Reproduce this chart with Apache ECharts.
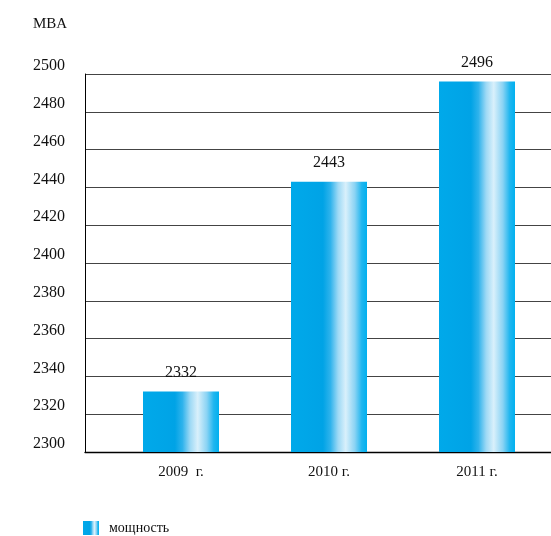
<!DOCTYPE html>
<html>
<head>
<meta charset="utf-8">
<script src="https://cdn.jsdelivr.net/npm/echarts@6/dist/echarts.min.js"></script>
<style>html,body{margin:0;padding:0;background:#fff}#c{width:551px;height:536px}</style>
</head>
<body>
<div id="c"></div>
<script>
var categories = ['2009  г.', '2010 г.', '2011 г.'];
var values = [2332, 2443, 2496];
var seriesName = 'мощность';
var unitLabel = 'MBA';
var yMin = 2300, yMax = 2500, yStep = 20;

var serif = '"Liberation Serif", "DejaVu Serif", serif';
var barGradient = {
  type: 'linear', x: 0, y: 0, x2: 1, y2: 0,
  colorStops: [
    {offset: 0, color: '#00a9ea'},
    {offset: 0.42, color: '#00a3e6'},
    {offset: 0.52, color: '#2fb3ec'},
    {offset: 0.62, color: '#9dd9f5'},
    {offset: 0.72, color: '#d9f0fb'},
    {offset: 0.84, color: '#8ad3f4'},
    {offset: 0.93, color: '#20b6ef'},
    {offset: 1, color: '#00b0ef'}
  ]
};

var chart = echarts.init(document.getElementById('c'));
chart.setOption({
  animation: false,
  title: {text: unitLabel, left: 28, top: 12, textStyle: {fontFamily: serif, fontSize: 15, fontWeight: 'normal', color: '#111'}},
  legend: {
    left: 78, top: 516, itemWidth: 16, itemHeight: 14, icon: 'rect',
    data: [seriesName],
    textStyle: {fontFamily: serif, fontSize: 14, color: '#111', padding: [0, 0, 0, 5]}
  },
  grid: [
    {left: 85, right: 0, top: 74, bottom: 84},
    {left: 107, width: 445.5, top: 74, bottom: 84}
  ],
  xAxis: [
    {gridIndex: 0, type: 'category', data: ['a'], axisLine: {lineStyle: {color: '#000', width: 1.3}}, axisTick: {show: false}, axisLabel: {show: false}},
    {gridIndex: 1, type: 'category', data: categories, axisLine: {show: false}, axisTick: {show: false},
     axisLabel: {margin: 13, fontFamily: serif, fontSize: 15, color: '#111'}}
  ],
  yAxis: [
    {gridIndex: 0, type: 'value', min: yMin, max: yMax, interval: yStep,
     axisLine: {show: true, lineStyle: {color: '#000', width: 1}}, axisTick: {show: false},
     splitLine: {lineStyle: {color: '#444', width: 1}},
     axisLabel: {margin: 20, fontFamily: serif, fontSize: 16, color: '#111', verticalAlign: 'bottom', lineHeight: 16,
                 formatter: function (v) { return String(v); }}},
    {gridIndex: 1, type: 'value', min: yMin, max: yMax, interval: yStep, show: false, splitLine: {show: false}}
  ],
  series: [{
    name: seriesName, type: 'bar', xAxisIndex: 1, yAxisIndex: 1,
    data: values, barWidth: 76,
    itemStyle: {color: barGradient},
    label: {show: true, position: 'top', distance: 11, fontFamily: serif, fontSize: 16, color: '#111'}
  }]
});
</script>
</body>
</html>
